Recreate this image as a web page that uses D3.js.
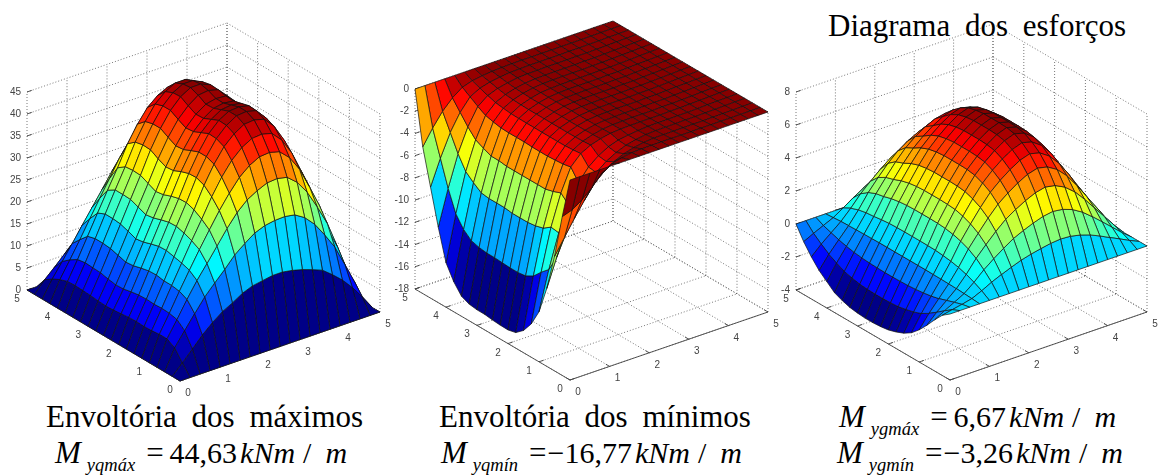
<!DOCTYPE html>
<html>
<head>
<meta charset="utf-8">
<script src="https://cdnjs.cloudflare.com/ajax/libs/d3/7.8.5/d3.min.js"></script>
<style>
body { margin: 0; background: #fff; }
.plots { filter: blur(0.35px); }
</style>
</head>
<body>
<script>
var axisTicks = [0, 1, 2, 3, 4, 5];
var meshPos = [0, .25, .5, .75, 1, 1.25, 1.5, 1.75, 2, 2.25, 2.5, 2.75, 3, 3.25, 3.5, 3.75, 4, 4.25, 4.5, 4.75, 5];

var ticksMax = [0, 5, 10, 15, 20, 25, 30, 35, 40, 45];
var ticksMin = [-18, -16, -14, -12, -10, -8, -6, -4, -2, 0];
var ticksEsf = [-4, -2, 0, 2, 4, 6, 8];

// rows: left axis (0 to 5), columns: right axis (0 to 5)
var zero = [0, 0, 0, 0, 0, 0, 0, 0, 0, 0, 0, 0, 0, 0, 0, 0, 0, 0, 0, 0, 0];

var valuesMax = [
zero,
[0,2.3,4.7,7.1,9.1,10.8,12,13.4,14.3,14.7,15.1,15.1,14.7,14.1,13.3,12.4,10.6,8.6,6.1,3.2,0],
[0,4.7,7.8,10.9,13.9,16.3,18.6,21.1,22.9,24.5,25.4,25.8,25.9,25.5,24.1,21.8,18.6,15.1,10.4,5.5,0],
[0,5.7,9.3,13.1,16.6,19.7,22.9,26.1,28.9,31,32.3,33.3,33.5,33,31.1,28.1,24,19.5,13.5,7.1,0],
[0,5.7,9.7,13.9,17.9,21.8,25.5,29.1,32.3,35.1,37,38.2,38.4,37.8,35.7,32.3,27.5,22.4,15.5,8.2,0],
[0,5.5,9.8,14.2,18.5,22.8,26.9,31.2,34.9,37.9,40,41.3,41.5,40.9,38.6,34.9,29.8,24.2,16.7,8.8,0],
[0,5.4,9.7,14.2,18.9,23.5,28,32.8,36.8,40,42.1,43.5,43.7,43.1,40.7,36.8,31.4,25.5,17.6,9.3,0],
[0,5.5,9.8,14.5,19.3,24,28.6,33.5,37.5,40.8,43,44.4,44.6,44,41.5,37.5,32,26,18,9.5,0],
[0,5.4,9.7,14.4,19.2,23.9,28.5,33.4,37.5,40.9,43.1,44.4,44.6,44.1,41.7,37.7,32.1,26,18,9.5,0],
[0,5.2,9.4,14,18.7,23.4,28,32.8,36.8,40.1,42.3,43.7,44,43.6,41.3,37.4,31.9,25.9,18,9.5,0],
[0,5,9,13.5,18.1,22.8,27.3,32,36,39.3,41.5,43,43.4,43.1,41,37.2,31.8,25.8,17.9,9.5,0],
[0,4.9,8.9,13.3,17.8,22.5,27,31.8,35.8,39.1,41.4,42.9,43.4,43.2,41.1,37.2,31.8,25.8,17.9,9.5,0],
[0,5,9.2,13.8,18.5,23.2,27.8,32.6,36.7,40,42.3,43.9,44.2,43.6,41.3,37.3,31.8,25.8,17.9,9.4,0],
[0,5.2,9.6,14.3,19.1,23.9,28.6,33.6,37.7,41,43.3,44.6,44.63,43.7,41,37,31.5,25.5,17.7,9.3,0],
[0,5.3,9.7,14.5,19.3,24,28.7,33.7,37.7,41,43.2,44.4,44.4,43.3,40.6,36.6,31.1,25.2,17.4,9.1,0],
[0,5.4,9.8,14.5,19.3,24,28.5,33.3,37.2,40.4,42.4,43.6,43.6,42.4,39.7,35.7,30.4,24.6,17,9,0],
[0,5.3,9.5,14,18.5,22.9,27.2,31.9,35.6,38.6,40.5,41.6,41.6,40.4,37.8,34.1,29,23.4,16.2,8.5,0],
[0,4.7,8.4,12.2,16.2,20.1,23.9,27.8,30.9,33.6,35.3,36.2,36.2,35.3,33,29.7,25.2,20.4,14.1,7.4,0],
[0,3.8,7,10.3,13.7,17,20.3,23.7,26.4,28.6,30.1,30.9,31,30.2,28.2,25.4,21.5,17.5,12,6.3,0],
[0,2.6,4.7,6.9,9.1,11.3,13.4,15.7,17.6,19.1,20.1,20.7,20.7,20.2,18.9,17,14.4,11.7,8.1,4.3,0],
zero
];

var valuesMin = [
zero,
[-3.7,-3.4,-2.8,-2,-1,-.5,-.25,-.1,-.06,-.05,-.04,-.04,-.04,-.04,-.03,-.03,-.02,-.02,-.01,-.01,0],
[-7.7,-6.3,-4.9,-3.6,-2.4,-1.6,-1,-.6,-.35,-.2,-.12,-.1,-.1,-.09,-.08,-.08,-.06,-.05,-.03,-.01,0],
[-11,-8.5,-6.2,-4.5,-3.2,-2.1,-1.4,-.9,-.55,-.35,-.2,-.15,-.14,-.13,-.11,-.11,-.09,-.07,-.04,-.02,0],
[-13.5,-10,-7,-4.8,-3.1,-2,-1.3,-.8,-.5,-.35,-.25,-.18,-.17,-.16,-.14,-.14,-.11,-.08,-.05,-.03,0],
[-15,-10.65,-6.9,-4.13,-2.1,-1.2,-.75,-.48,-.3,-.23,-.2,-.18,-.18,-.18,-.15,-.15,-.12,-.09,-.06,-.03,0],
[-16,-11.4,-7.4,-4.4,-2.24,-1.28,-.8,-.51,-.32,-.24,-.21,-.19,-.19,-.19,-.16,-.16,-.13,-.1,-.06,-.03,0],
[-16.6,-11.8,-7.6,-4.6,-2.3,-1.33,-.83,-.53,-.33,-.25,-.22,-.2,-.2,-.2,-.17,-.17,-.13,-.1,-.07,-.03,0],
[-16.77,-11.9,-7.7,-4.6,-2.35,-1.34,-.84,-.54,-.34,-.25,-.22,-.2,-.2,-.2,-.17,-.17,-.13,-.1,-.07,-.03,0],
[-16.75,-11.9,-7.7,-4.6,-2.35,-1.34,-.84,-.54,-.34,-.25,-.22,-.2,-.2,-.2,-.17,-.17,-.13,-.1,-.07,-.03,0],
[-16.7,-11.85,-7.7,-4.6,-2.34,-1.34,-.84,-.53,-.33,-.25,-.22,-.2,-.2,-.2,-.17,-.17,-.13,-.1,-.07,-.03,0],
[-16.6,-11.8,-7.6,-4.6,-2.3,-1.33,-.83,-.53,-.33,-.25,-.22,-.2,-.2,-.2,-.17,-.17,-.13,-.1,-.07,-.03,0],
[-16.6,-11.8,-7.6,-4.6,-2.3,-1.33,-.83,-.53,-.33,-.25,-.22,-.2,-.2,-.2,-.17,-.17,-.13,-.1,-.07,-.03,0],
[-16.5,-11.7,-7.6,-4.5,-2.3,-1.32,-.83,-.53,-.33,-.25,-.21,-.2,-.2,-.2,-.17,-.17,-.13,-.1,-.07,-.03,0],
[-16.2,-11.5,-7.5,-4.5,-2.27,-1.3,-.81,-.52,-.32,-.24,-.21,-.19,-.19,-.19,-.16,-.16,-.13,-.1,-.06,-.03,0],
[-15.3,-10.9,-7,-4.2,-2.14,-1.22,-.77,-.49,-.31,-.23,-.2,-.18,-.18,-.18,-.15,-.15,-.12,-.09,-.06,-.03,0],
[-14,-9.9,-6.4,-3.85,-1.96,-1.12,-.7,-.45,-.28,-.21,-.18,-.17,-.17,-.17,-.14,-.14,-.11,-.08,-.06,-.03,0],
[-11.2,-8,-5.2,-3.1,-1.57,-.9,-.56,-.36,-.22,-.17,-.15,-.13,-.13,-.13,-.11,-.11,-.09,-.07,-.04,-.02,0],
[-8,-5.7,-3.7,-2.2,-1.12,-.64,-.4,-.26,-.16,-.12,-.1,-.1,-.1,-.1,-.08,-.08,-.06,-.05,-.03,-.02,0],
[-4.8,-3.4,-2.2,-1.3,-.67,-.38,-.24,-.15,-.1,-.07,-.06,-.06,-.06,-.06,-.05,-.05,-.04,-.03,-.02,-.01,0],
zero
];

var valuesEsf = [
zero,
[-.35,-.22,-.1,.04,.31,.62,.88,1.12,1.34,1.5,1.63,1.74,1.8,1.76,1.63,1.43,1.16,.86,.57,.27,0],
[-.9,-.56,-.25,.07,.55,1.1,1.56,1.99,2.38,2.66,2.9,3.1,3.2,3.12,2.9,2.54,2.06,1.54,1.01,.48,0],
[-1.5,-.92,-.41,.1,.76,1.52,2.15,2.74,3.27,3.66,3.99,4.26,4.4,4.29,3.99,3.5,2.84,2.11,1.39,.66,0],
[-2.05,-1.26,-.57,.12,.91,1.82,2.57,3.28,3.91,4.38,4.78,5.1,5.27,5.14,4.78,4.19,3.4,2.53,1.66,.79,0],
[-2.5,-1.54,-.69,.13,1.01,2.02,2.86,3.65,4.36,4.88,5.32,5.68,5.87,5.72,5.32,4.66,3.78,2.82,1.85,.88,0],
[-2.8,-1.72,-.77,.14,1.08,2.16,3.06,3.9,4.65,5.22,5.69,6.06,6.27,6.11,5.69,4.98,4.04,3.01,1.97,.94,0],
[-3,-1.84,-.83,.15,1.13,2.25,3.19,4.07,4.85,5.44,5.93,6.32,6.54,6.37,5.93,5.19,4.21,3.14,2.06,.98,0],
[-3.15,-1.94,-.87,.15,1.14,2.29,3.23,4.13,4.93,5.52,6.02,6.42,6.64,6.47,6.02,5.27,4.28,3.18,2.09,1,0],
[-3.22,-1.98,-.89,.15,1.15,2.3,3.25,4.15,4.95,5.55,6.05,6.45,6.67,6.5,6.05,5.3,4.3,3.2,2.1,1,0],
[-3.26,-2,-.9,.15,1.15,2.3,3.25,4.15,4.95,5.55,6.05,6.45,6.67,6.5,6.05,5.3,4.3,3.2,2.1,1,0],
[-3.26,-2,-.9,.15,1.15,2.3,3.25,4.15,4.95,5.55,6.05,6.45,6.67,6.5,6.05,5.3,4.3,3.2,2.1,1,0],
[-3.22,-1.98,-.89,.15,1.14,2.28,3.22,4.11,4.9,5.49,5.99,6.39,6.6,6.44,5.99,5.25,4.26,3.17,2.08,.99,0],
[-3.15,-1.94,-.87,.15,1.12,2.23,3.15,4.03,4.8,5.38,5.87,6.26,6.47,6.31,5.87,5.14,4.17,3.1,2.04,.97,0],
[-3,-1.84,-.83,.14,1.07,2.14,3.02,3.86,4.6,5.16,5.63,6,6.2,6.05,5.63,4.93,4,2.98,1.95,.93,0],
[-2.8,-1.72,-.77,.13,1,2,2.83,3.61,4.31,4.83,5.26,5.61,5.8,5.66,5.26,4.61,3.74,2.78,1.83,.87,0],
[-2.4,-1.48,-.67,.12,.95,1.9,2.68,3.42,4.06,4.54,4.92,5.2,5.32,5.13,4.72,4.13,3.35,2.5,1.64,.78,0],
[-2,-1.22,-.55,.1,.85,1.7,2.4,3.05,3.6,4,4.3,4.55,4.65,4.45,4.05,3.5,2.84,2.11,1.39,.66,0],
[-1.45,-.88,-.4,.08,.68,1.35,1.9,2.42,2.88,3.2,3.45,3.62,3.65,3.45,3.1,2.65,2.15,1.6,1.05,.5,0],
[-.8,-.5,-.23,.04,.42,.82,1.18,1.5,1.78,1.98,2.12,2.2,2.2,2.05,1.8,1.48,1.2,.9,.59,.28,0],
zero
];

// axes corners in pixels: origin, end of right axis, end of left axis, length of the z axis
var panels = [
	{values: valuesMax, ticks: ticksMax, origin: [180, 381], endU: [380, 312], endV: [27, 290], zLen: 198},
	{values: valuesMin, ticks: ticksMin, origin: [570, 380], endU: [768, 312], endV: [415, 289], zLen: 200},
	{values: valuesEsf, ticks: ticksEsf, origin: [950, 380], endU: [1147, 312], endV: [796, 290], zLen: 198}
];

var jet = [];
function generateJet() {
	for(var i = 0; i < 64; i++) {
		var t = (i + .5) / 64;
		var r = Math.min(4 * t - 1.5, -4 * t + 4.5);
		var g = Math.min(4 * t - .5, -4 * t + 3.5);
		var b = Math.min(4 * t + .5, -4 * t + 2.5);
		jet.push(d3.rgb(255 * Math.max(0, Math.min(1, r)), 255 * Math.max(0, Math.min(1, g)), 255 * Math.max(0, Math.min(1, b))).toString());
	}
}
generateJet();

var svg = d3.select("body").append("svg")
	.attr("width", 1160)
	.attr("height", 475)
	.style("display", "block");

var plots = svg.append("g").attr("class", "plots");
var line = d3.line();

function drawPanel(p) {
	var g = plots.append("g");
	var dU = [p.endU[0] - p.origin[0], p.endU[1] - p.origin[1]];
	var dV = [p.endV[0] - p.origin[0], p.endV[1] - p.origin[1]];
	var zMin = d3.min(p.ticks), zMax = d3.max(p.ticks);

	var uS = d3.scaleLinear().domain([0, 5]).range([0, 1]);
	var vS = d3.scaleLinear().domain([0, 5]).range([0, 1]);
	var zS = d3.scaleLinear().domain([zMin, zMax]).range([0, 1]);

	function project(u, v, z) {
		var a = uS(u), b = vS(v), c = zS(z);
		return [p.origin[0] + a * dU[0] + b * dV[0], p.origin[1] + a * dU[1] + b * dV[1] - c * p.zLen];
	}
	// direction that projects to a single pixel, used for painter sorting
	var ka = -dV[0] / dU[0];
	var kc = -(ka * dU[1] + dV[1]) / p.zLen;
	function depth(u, v, z) {
		return ka * uS(u) + vS(v) - kc * zS(z);
	}

	function dotted(a, b) {
		g.append("path")
			.attr("d", line([a, b]))
			.attr("fill", "none")
			.attr("stroke", "#555")
			.attr("stroke-width", .8)
			.attr("stroke-dasharray", "1 2");
	}
	p.ticks.forEach(function(z) {
		dotted(project(0, 5, z), project(5, 5, z));
		dotted(project(5, 0, z), project(5, 5, z));
	});
	axisTicks.forEach(function(t) {
		dotted(project(t, 5, zMin), project(t, 5, zMax));
		dotted(project(5, t, zMin), project(5, t, zMax));
		dotted(project(t, 0, zMin), project(t, 5, zMin));
		dotted(project(0, t, zMin), project(5, t, zMin));
	});

	// solid axes with ticks
	function solid(a, b) {
		g.append("path")
			.attr("d", line([a, b]))
			.attr("fill", "none")
			.attr("stroke", "#444")
			.attr("stroke-width", .9);
	}
	solid(project(0, 0, zMin), project(5, 0, zMin));
	solid(project(0, 0, zMin), project(0, 5, zMin));
	axisTicks.forEach(function(t) {
		solid(project(t, 0, zMin), project(t, .12, zMin));
		solid(project(0, t, zMin), project(.12, t, zMin));
		g.append("text").attr("class", "tick")
			.attr("x", project(t, 0, zMin)[0] + 8)
			.attr("y", project(t, 0, zMin)[1] + 15)
			.attr("text-anchor", "middle")
			.text(t);
		g.append("text").attr("class", "tick")
			.attr("x", project(0, t, zMin)[0] - 10)
			.attr("y", project(0, t, zMin)[1] + 12)
			.attr("text-anchor", "middle")
			.text(t);
	});
	p.ticks.forEach(function(z) {
		solid(project(0, 5, z), project(.12, 5, z));
		g.append("text").attr("class", "tick")
			.attr("x", project(0, 5, z)[0] - 6)
			.attr("y", project(0, 5, z)[1] + 3)
			.attr("text-anchor", "end")
			.text(z);
	});
	g.selectAll("text.tick")
		.attr("font-family", "Liberation Sans")
		.attr("font-size", 10)
		.attr("fill", "#444");

	// surface faces, colored by their first corner like surf does
	var color = d3.scaleQuantize()
		.domain([d3.min(p.values, function(r) { return d3.min(r); }), d3.max(p.values, function(r) { return d3.max(r); })])
		.range(jet);
	var faces = [];
	for(var j = 0; j < meshPos.length - 1; j++) {
		for(var i = 0; i < meshPos.length - 1; i++) {
			var z = p.values;
			var corners = [
				[meshPos[i], meshPos[j], z[j][i]],
				[meshPos[i + 1], meshPos[j], z[j][i + 1]],
				[meshPos[i + 1], meshPos[j + 1], z[j + 1][i + 1]],
				[meshPos[i], meshPos[j + 1], z[j + 1][i]]
			];
			faces.push({
				pts: corners,
				c: z[j][i],
				d: d3.mean(corners, function(k) { return depth(k[0], k[1], k[2]); })
			});
		}
	}
	faces.sort(function(a, b) { return b.d - a.d; });
	g.selectAll("path.face")
		.data(faces)
		.enter().append("path")
		.attr("class", "face")
		.attr("d", function(d) {
			return line(d.pts.map(function(k) { return project(k[0], k[1], k[2]); })) + "Z";
		})
		.attr("fill", function(d) { return color(d.c); })
		.attr("stroke", "#111")
		.attr("stroke-width", .7)
		.attr("stroke-linejoin", "round");
}
panels.forEach(drawPanel);

// captions
var captions = [
	{text: "Diagrama dos esforços", x: 828, y: 36},
	{text: "Envoltória dos máximos", x: 46, y: 427},
	{text: "Envoltória dos mínimos", x: 439, y: 427}
];
svg.selectAll("text.caption")
	.data(captions)
	.enter().append("text")
	.attr("class", "caption")
	.attr("x", function(d) { return d.x; })
	.attr("y", function(d) { return d.y; })
	.attr("font-family", "Liberation Serif")
	.attr("font-size", 31)
	.attr("word-spacing", 7)
	.attr("fill", "#000")
	.text(function(d) { return d.text; });

// formulas: M, subscript, value, unit
var formulas = [
	{sub: "yqmáx", value: "44,63", gap: 6, x: 55, y: 463},
	{sub: "yqmín", value: "−16,77", gap: 1, x: 441, y: 463},
	{sub: "ygmáx", value: "6,67", gap: 6, x: 839, y: 427},
	{sub: "ygmín", value: "−3,26", gap: 1, x: 837, y: 463}
];
formulas.forEach(function(f) {
	var t = svg.append("text")
		.attr("x", f.x)
		.attr("y", f.y)
		.attr("font-family", "Liberation Serif")
		.attr("font-size", 30)
		.attr("fill", "#000");
	t.append("tspan").attr("font-style", "italic").attr("font-size", 31).text("M");
	t.append("tspan").attr("font-style", "italic").attr("font-size", 18.5).attr("dx", 6).attr("dy", 8).text(f.sub);
	t.append("tspan").attr("dx", 11).attr("dy", -8).attr("font-size", 31).text("=");
	t.append("tspan").attr("dx", f.gap).text(f.value);
	t.append("tspan").attr("dx", 3).attr("font-style", "italic").text("kNm");
	t.append("tspan").attr("dx", 8).text("/");
	t.append("tspan").attr("dx", 14).attr("font-style", "italic").text("m");
});
</script>
</body>
</html>
